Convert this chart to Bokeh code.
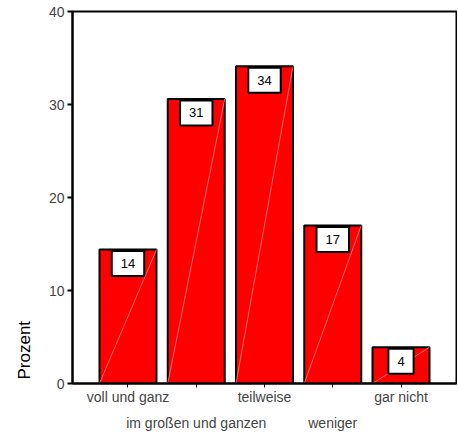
from bokeh.plotting import figure
from bokeh.models import ColumnDataSource, LinearAxis, FixedTicker, Range1d, Title
from bokeh.core.properties import value
from bokeh.embed import file_html
from bokeh.resources import INLINE

categories = ["voll und ganz", "im großen und ganzen", "teilweise", "weniger", "gar nicht"]
percent = [14.4, 30.6, 34.1, 17.0, 3.9]
labels = ["14", "31", "34", "17", "4"]
yticks = [0, 10, 20, 30, 40]

xs = list(range(1, len(categories) + 1))
bw = 0.835
src = ColumnDataSource(dict(
    x=xs, top=percent, lab=labels,
    x0=[x - bw / 2 for x in xs], x1=[x + bw / 2 for x in xs],
    y0=[0] * len(xs),
))

FONT = "Liberation Sans"

p = figure(frame_width=384, frame_height=372, output_backend="svg", toolbar_location=None,
           x_range=Range1d(3 - 2.813, 3 + 2.813), y_range=Range1d(0, 40),
           min_border_left=72, min_border_right=1, min_border_top=11, min_border_bottom=10,
           x_axis_location=None, y_axis_location=None)
p.xgrid.visible = False
p.ygrid.visible = False
p.outline_line_color = "black"
p.outline_line_width = 2
p.background_fill_color = "white"
p.border_fill_color = "white"

p.vbar(x="x", top="top", width=bw, bottom=0, source=src, fill_color="#ff0000",
       line_color="black", line_width=2)
p.segment(x0="x0", y0="y0", x1="x1", y1="top", source=src, line_color="#ff8a8a",
          line_width=1, line_alpha=0.8)

p.text(x="x", y="top", text="lab", source=src, text_align="center", text_baseline="middle",
       y_offset=14, text_font=value(FONT), text_font_size="13px", text_color="black",
       background_fill_color="white", border_line_color="black", border_line_width=2,
       padding=(9, 8))

# y axis
ya = LinearAxis(ticker=FixedTicker(ticks=yticks))
ya.axis_line_width = 2
ya.major_tick_line_width = 2
ya.major_tick_out = 5
ya.major_tick_in = 0
ya.minor_tick_line_color = None
ya.major_label_text_font = FONT
ya.major_label_text_font_size = "14px"
ya.major_label_standoff = 3
p.add_layout(ya, "left")

ytitle = Title(text="Prozent", align="left", text_font=FONT, text_font_size="17px",
               text_font_style="normal", text_color="black", standoff=24, offset=4)
p.add_layout(ytitle, "left")

# x axis, first row of labels
xa1 = LinearAxis(ticker=FixedTicker(ticks=xs))
xa1.major_label_overrides = {x: (c if i % 2 == 0 else " ") for i, (x, c) in enumerate(zip(xs, categories))}
xa1.axis_line_width = 2
xa1.major_tick_out = 4
xa1.major_tick_in = 0
xa1.minor_tick_line_color = None
xa1.major_label_text_font = FONT
xa1.major_label_text_font_size = "14px"
xa1.major_label_standoff = 1
p.add_layout(xa1, "below")

# second row of labels
xa2 = LinearAxis(ticker=FixedTicker(ticks=xs))
xa2.major_label_overrides = {x: (c if i % 2 == 1 else " ") for i, (x, c) in enumerate(zip(xs, categories))}
xa2.axis_line_color = None
xa2.major_tick_line_color = None
xa2.minor_tick_line_color = None
xa2.major_tick_out = 0
xa2.major_tick_in = 0
xa2.major_label_text_font = FONT
xa2.major_label_text_font_size = "14px"
xa2.major_label_standoff = 7
p.add_layout(xa2, "below")

open("out.html", "w").write(file_html(p, INLINE))
